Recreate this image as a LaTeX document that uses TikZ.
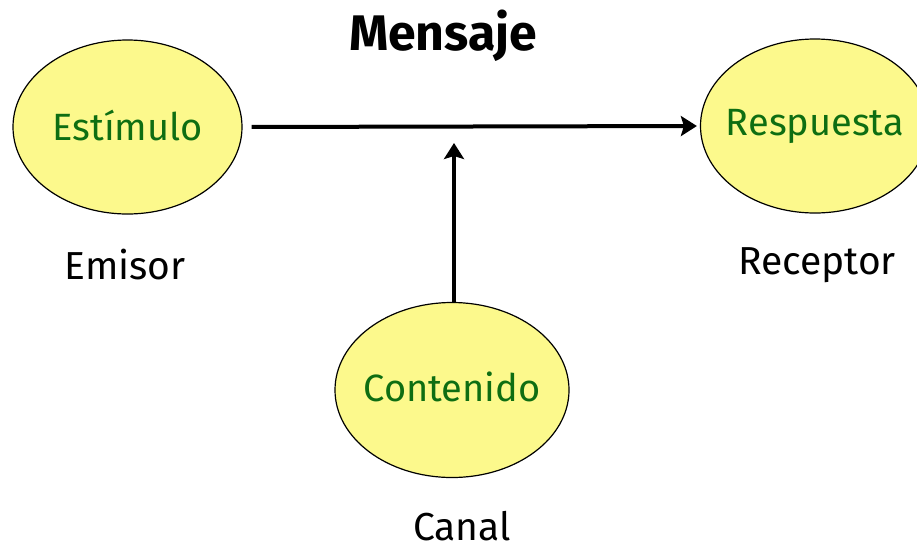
\documentclass[tikz,border=0pt]{standalone}
\usepackage{fontspec}
\setmainfont{Fira Sans}
\usetikzlibrary{shapes.geometric,arrows.meta}
\definecolor{elfill}{HTML}{FCF98C}
\definecolor{txtgreen}{HTML}{0E6E12}
\newcommand{\inbub}[2][4pt]{\raisebox{#1}{\makebox[0pt]{#2}}}
\begin{document}
\begin{tikzpicture}[x=1pt,y=-1pt,
  bubble/.style={ellipse,draw=black,line width=1.2pt,fill=elfill,minimum width=229pt,minimum height=174pt,inner sep=0pt,text=txtgreen,font=\fontsize{38}{44}\selectfont},
  lbl/.style={font=\fontsize{39}{44}\selectfont,text=black},
  conn/.style={line width=4pt,-{Stealth[length=16pt,width=20pt,inset=3pt]}}]
\useasboundingbox[clip] (0,0) rectangle (917,552);
\fill[white] (0,0) rectangle (917,552);
\node[bubble] (est) at (127.5,127) {\inbub{Estímulo}};
\node[bubble] (resp) at (815,126) {\inbub{Respuesta}};
\node[bubble,minimum width=234pt,minimum height=175pt] (cont) at (452,390) {\inbub[6pt]{Contenido}};
\node[lbl,font=\bfseries\fontsize{50}{56}\selectfont] (men) at (443,36) {Mensaje};
\node[lbl] (emi) at (125,265) {Emisor};
\node[lbl] (rec) at (817,265) {Receptor};
\node[lbl] (can) at (462,526) {Canal};
\coordinate (mid) at (454,143);
\draw[conn,shorten <=9pt,shorten >=3pt] (est.east) -- (resp.west);
\draw[conn,shorten <=-1pt] (cont.north -| mid) -- (mid);
\end{tikzpicture}
\end{document}
